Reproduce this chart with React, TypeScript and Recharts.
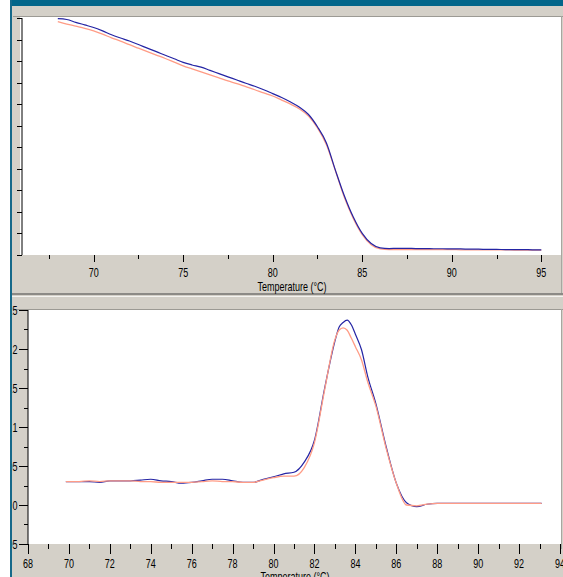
import { LineChart, Line, XAxis, YAxis } from "recharts";

const FONT = "'Liberation Sans', Arial, sans-serif";
const SAMPLE_COLOR = "#2424a4";
const CONTROL_COLOR = "#ff9c86";

// melt curve (top panel), fluorescence in arbitrary units
const meltTemps = [
  68, 68.5, 69, 69.5, 70, 70.5, 71, 71.5, 72, 72.5, 73, 73.5, 74, 74.5, 75, 75.5, 76, 76.5, 77, 77.5,
  78, 78.5, 79, 79.5, 80, 80.5, 81, 81.5, 82, 82.5, 83, 83.5, 84, 84.5, 85, 85.5, 86, 86.5, 87, 87.5,
  88, 88.5, 89, 89.5, 90, 90.5, 91, 91.5, 92, 92.5, 93, 93.5, 94, 94.5, 95,
];
const meltSample = [
  10.97, 10.93, 10.8, 10.68, 10.56, 10.4, 10.22, 10.07, 9.93, 9.77, 9.6, 9.44, 9.27, 9.11, 8.94, 8.82, 8.72, 8.57, 8.42, 8.27,
  8.12, 7.97, 7.83, 7.67, 7.49, 7.31, 7.1, 6.86, 6.52, 5.95, 5.2, 3.94, 2.75, 1.76, 1.0, 0.53, 0.33, 0.3, 0.31, 0.31,
  0.3, 0.3, 0.29, 0.29, 0.28, 0.28, 0.27, 0.27, 0.26, 0.26, 0.25, 0.25, 0.25, 0.24, 0.24,
];
const meltControl = [
  10.83, 10.72, 10.62, 10.52, 10.4, 10.25, 10.08, 9.93, 9.76, 9.6, 9.44, 9.28, 9.12, 8.95, 8.78, 8.64, 8.5, 8.36, 8.22, 8.08,
  7.95, 7.81, 7.67, 7.52, 7.38, 7.19, 7.0, 6.78, 6.45, 5.9, 5.12, 3.92, 2.68, 1.7, 0.95, 0.48, 0.28, 0.25, 0.25, 0.25,
  0.25, 0.25, 0.25, 0.25, 0.25, 0.24, 0.24, 0.24, 0.24, 0.24, 0.24, 0.23, 0.23, 0.23, 0.23,
];
const meltXTicks = [67.5, 70, 72.5, 75, 77.5, 80, 82.5, 85, 87.5, 90, 92.5, 95];
const meltYTicks = [0, 1, 2, 3, 4, 5, 6, 7, 8, 9, 10, 11];

// derivative curve (bottom panel)
const peakTemps = [
  69.85, 70, 70.5, 71, 71.5, 72, 72.5, 73, 73.5, 74, 74.5, 75, 75.5, 76, 76.5, 77, 77.5, 78, 78.5, 79,
  79.5, 80, 80.5, 81, 81.5, 82, 82.5, 83, 83.2, 83.4, 83.6, 83.8, 84, 84.3, 84.6, 85, 85.5, 86, 86.5, 87,
  87.5, 88, 88.5, 89, 89.5, 90, 90.5, 91, 91.5, 92, 92.5, 93, 93.1,
];
const peakSample = [
  0.03, 0.03, 0.03, 0.03, 0.029, 0.031, 0.031, 0.031, 0.032, 0.033, 0.031, 0.03, 0.028, 0.029, 0.031, 0.033, 0.033, 0.031, 0.029, 0.029,
  0.033, 0.036, 0.04, 0.042, 0.055, 0.083, 0.15, 0.21, 0.228, 0.234, 0.237, 0.231, 0.219, 0.199, 0.165, 0.13, 0.075, 0.028, 0.003, -0.002,
  0.001, 0.002, 0.002, 0.002, 0.002, 0.002, 0.002, 0.002, 0.002, 0.002, 0.002, 0.002, 0.002,
];
const peakControl = [
  0.03, 0.03, 0.03, 0.031, 0.03, 0.031, 0.031, 0.031, 0.03, 0.03, 0.029, 0.029, 0.029, 0.029, 0.03, 0.031, 0.03, 0.03, 0.029, 0.029,
  0.032, 0.035, 0.037, 0.037, 0.048, 0.08, 0.148, 0.212, 0.224, 0.227, 0.224, 0.214, 0.203, 0.186, 0.158, 0.127, 0.073, 0.028, 0.0, -0.001,
  0.001, 0.002, 0.002, 0.002, 0.002, 0.002, 0.002, 0.002, 0.002, 0.002, 0.002, 0.002, 0.002,
];
const peakXTicks = [
  68, 69, 70, 71, 72, 73, 74, 75, 76, 77, 78, 79, 80, 81, 82, 83, 84, 85, 86, 87, 88, 89, 90, 91, 92, 93, 94,
];
const peakYTicks = [-0.05, -0.025, 0, 0.025, 0.05, 0.075, 0.1, 0.125, 0.15, 0.175, 0.2, 0.225, 0.25];

const meltRows = meltTemps.map((t, i) => ({ t, sample: meltSample[i], control: meltControl[i] }));
const peakRows = peakTemps.map((t, i) => ({ t, sample: peakSample[i], control: peakControl[i] }));

const isMultiple = (v: number, step: number) => Math.abs(v / step - Math.round(v / step)) < 1e-6;

function TickText({ x, y, children }: { x: number; y: number; children: any }) {
  return (
    <text
      transform={`translate(${x},${y}) scale(0.75,1)`}
      textAnchor="middle"
      fontSize={12}
      fontFamily={FONT}
      fill="#000"
    >
      {children}
    </text>
  );
}

const meltXTick = (p: any) => {
  const v = p.payload.value;
  const major = isMultiple(v, 5);
  const x = Math.round(p.x) + 0.5;
  return (
    <g>
      <line x1={x} x2={x} y1={255} y2={major ? 262 : 259} stroke="#000" />
      {major && <TickText x={p.x} y={277}>{v}</TickText>}
    </g>
  );
};

const meltYTick = (p: any) => {
  const y = Math.round(p.y) + 0.5;
  return <line x1={17} x2={22} y1={y} y2={y} stroke="#000" />;
};

const peakXTick = (p: any) => {
  const v = p.payload.value;
  const major = isMultiple(v, 2);
  const x = Math.round(p.x) + 0.5;
  return (
    <g>
      <line x1={x} x2={x} y1={254} y2={major ? 264 : 259} stroke="#000" />
      {major && <TickText x={p.x} y={278}>{v}</TickText>}
    </g>
  );
};

const peakYTick = (p: any) => {
  const v = p.payload.value;
  const major = isMultiple(v, 0.05);
  const y = Math.round(p.y) + 0.5;
  return (
    <g>
      <line x1={major ? 19 : 24} x2={28} y1={y} y2={y} stroke="#000" />
      {major && (
        <text
          transform={`translate(17.5,${p.y + 4.5}) scale(0.75,1)`}
          textAnchor="end"
          fontSize={12}
          fontFamily={FONT}
          fill="#000"
        >
          {String(Math.round(v * 100) / 100)}
        </text>
      )}
    </g>
  );
};

const box = (left: number, top: number, width: number, height: number, background: string) => (
  <div style={{ position: "absolute", left, top, width, height, background }} />
);

export default function App() {
  return (
    <div
      style={{
        position: "absolute",
        left: 0,
        top: 0,
        width: 563,
        height: 577,
        overflow: "hidden",
        background: "#fff",
      }}
    >
      {box(10, 0, 2, 577, "#16698a")}
      <div
        style={{
          position: "absolute",
          left: 12,
          top: 0,
          width: 551,
          height: 577,
          overflow: "hidden",
          background: "#d4d0c8",
        }}
      >
        <div style={{ position: "absolute", left: -12, top: 0, width: 563, height: 577 }}>
          {box(12, 0, 551, 6, "#03668a")}
          {box(13, 16, 550, 1, "#9c9a94")}
          {box(20, 17, 541, 238, "#fff")}
          {box(561, 16, 1, 278, "#a8a6a0")}
          {box(12, 293, 551, 2, "#8c8a86")}
          {box(12, 296, 551, 1, "#f4f3f0")}
          {box(13, 309, 550, 1, "#9c9a94")}
          {box(28, 310, 533, 234, "#fff")}
          {box(561, 309, 1, 240, "#a8a6a0")}

          <div style={{ position: "absolute", left: 0, top: 0 }}>
            <LineChart width={563} height={300} data={meltRows} margin={{ top: 18, right: 2, bottom: 10, left: 0 }}>
              <XAxis
                dataKey="t"
                type="number"
                domain={[66, 96.1]}
                ticks={meltXTicks}
                interval={0}
                height={35}
                axisLine={false}
                tickLine={false}
                tick={meltXTick}
                allowDataOverflow
              />
              <YAxis
                type="number"
                domain={[0, 11]}
                ticks={meltYTicks}
                interval={0}
                width={22}
                axisLine={{ stroke: "#000" }}
                tickLine={false}
                tick={meltYTick}
                allowDataOverflow
              />
              <Line type="monotone" dataKey="control" stroke={CONTROL_COLOR} strokeWidth={1.3} dot={false} isAnimationActive={false} />
              <Line type="monotone" dataKey="sample" stroke={SAMPLE_COLOR} strokeWidth={1.2} dot={false} isAnimationActive={false} />
            </LineChart>
          </div>

          <div style={{ position: "absolute", left: 0, top: 290 }}>
            <LineChart width={563} height={300} data={peakRows} margin={{ top: 20, right: 3, bottom: 13, left: 0 }}>
              <XAxis
                dataKey="t"
                type="number"
                domain={[68, 94]}
                ticks={peakXTicks}
                interval={0}
                height={33}
                axisLine={false}
                tickLine={false}
                tick={peakXTick}
                allowDataOverflow
              />
              <YAxis
                type="number"
                domain={[-0.05, 0.25]}
                ticks={peakYTicks}
                interval={0}
                width={28}
                axisLine={{ stroke: "#000" }}
                tickLine={false}
                tick={peakYTick}
                allowDataOverflow
              />
              <Line type="monotone" dataKey="sample" stroke={SAMPLE_COLOR} strokeWidth={1.2} dot={false} isAnimationActive={false} />
              <Line type="monotone" dataKey="control" stroke={CONTROL_COLOR} strokeWidth={1.3} dot={false} isAnimationActive={false} />
            </LineChart>
          </div>

          <svg
            width={563}
            height={577}
            style={{ position: "absolute", left: 0, top: 0, pointerEvents: "none" }}
          >
            <TickText x={292} y={291}>Temperature (°C)</TickText>
            <TickText x={295} y={581}>Temperature (°C)</TickText>
          </svg>
        </div>
      </div>
    </div>
  );
}
